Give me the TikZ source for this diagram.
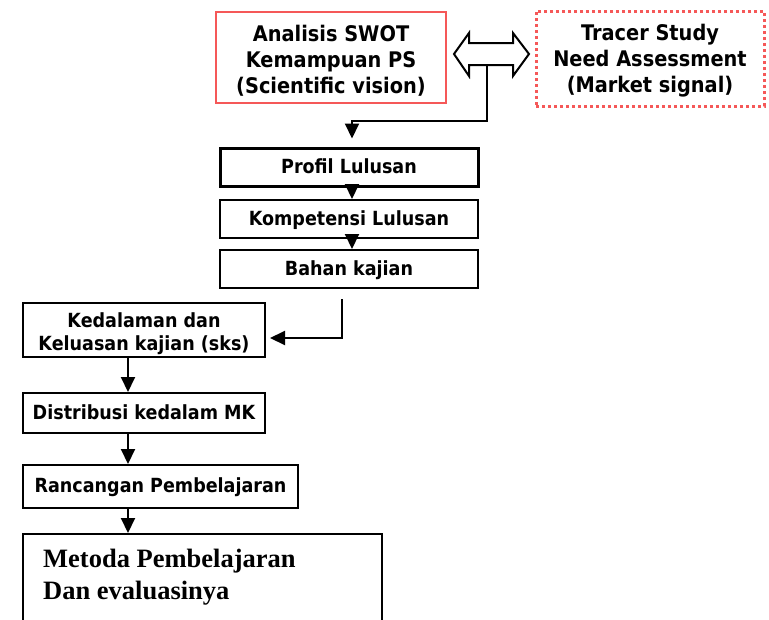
\documentclass[tikz,border=0pt]{standalone}
\usepackage{fontspec}
\setmainfont{Liberation Serif}
\setsansfont{DejaVu Sans}[FakeStretch=0.9]
\usetikzlibrary{arrows.meta}
\definecolor{salmon}{RGB}{245,88,88}
\begin{document}
\begin{tikzpicture}[x=1pt,y=1pt,
  box/.style={draw, line width=2pt, inner sep=0pt,
    font=\sffamily\bfseries\fontsize{19.5}{23}\selectfont,
    text height=14pt, text depth=2pt},
  toptext/.style={inner sep=0pt, align=center,
    font=\sffamily\bfseries\fontsize{21.5}{26}\selectfont},
  smalltext/.style={inner sep=0pt, anchor=base,
    font=\sffamily\bfseries\fontsize{19.5}{23}\selectfont},
  bigtext/.style={inner sep=0pt, anchor=base west,
    font=\rmfamily\bfseries\fontsize{26.5}{33}\selectfont},
  arr/.style={line width=2pt, line join=miter, -{Triangle[length=15pt,width=14pt]}}]
\useasboundingbox (0,0) rectangle (769,-619);

% top boxes
\node[draw=salmon, line width=2.5pt, minimum width=230pt, minimum height=91pt] (b1) at (331,-57.5) {};
\node[toptext] (b1t) at (331,-61) {Analisis SWOT\\Kemampuan PS\\(Scientific vision)};
\node[draw=salmon, line width=3pt, dash pattern=on 3pt off 3pt, minimum width=228pt, minimum height=95pt] (b2) at (650,-58.5) {};
\node[toptext] (b2t) at (650,-61) {Tracer Study\\Need Assessment\\(Market signal)};

% double arrow
\draw[line width=2pt, fill=white, line join=miter]
  (454,-54) -- (469,-33) -- (469,-43) -- (513,-43) -- (513,-33) -- (529,-54)
  -- (513,-76) -- (513,-65) -- (469,-65) -- (469,-76) -- cycle;
\coordinate (dj) at (487,-65);
\coordinate (turn) at (352,-121);

% middle boxes
\node[box, line width=3pt, minimum width=258pt, minimum height=38pt] (pf) at (349,-167) {Profil Lulusan};
\node[box, minimum width=258pt, minimum height=38pt] (kp) at (349,-219) {Kompetensi Lulusan};
\node[box, minimum width=258pt, minimum height=38pt] (bk) at (349,-269) {Bahan kajian};

% lower boxes
\node[box, minimum width=242pt, minimum height=54pt] (kd) at (144,-330) {};
\node[smalltext] (kdt1) at (144,-327) {Kedalaman dan};
\node[smalltext] (kdt2) at (144,-350) {Keluasan kajian (sks)};
\node[box, minimum width=242pt, minimum height=40pt] (ds) at (144,-413) {Distribusi kedalam MK};
\node[box, minimum width=275pt, minimum height=43pt] (rp) at (160.5,-486.5) {Rancangan Pembelajaran};
\node[box, minimum width=359pt, minimum height=110pt] (mp) at (202.5,-589) {};
\node[bigtext] (mpt1) at (43,-567) {Metoda Pembelajaran};
\node[bigtext] (mpt2) at (43,-599) {Dan evaluasinya};

% connectors
\draw[arr] (dj) |- (turn) -- ([yshift=8pt]pf.north -| turn);
\draw[arr] (pf.south -| turn) -- (kp.north -| turn);
\draw[arr] (kp.south -| turn) -- (bk.north -| turn);
\coordinate (bs) at (342,-299);
\draw[arr] (bs) |- ([xshift=4pt,yshift=-8pt]kd.east);
\coordinate (ax) at (128,0);
\draw[arr] (kd.south -| ax) -- (ds.north -| ax);
\draw[arr] (ds.south -| ax) -- (rp.north -| ax);
\draw[arr] (rp.south -| ax) -- (mp.north -| ax);
\end{tikzpicture}
\end{document}
